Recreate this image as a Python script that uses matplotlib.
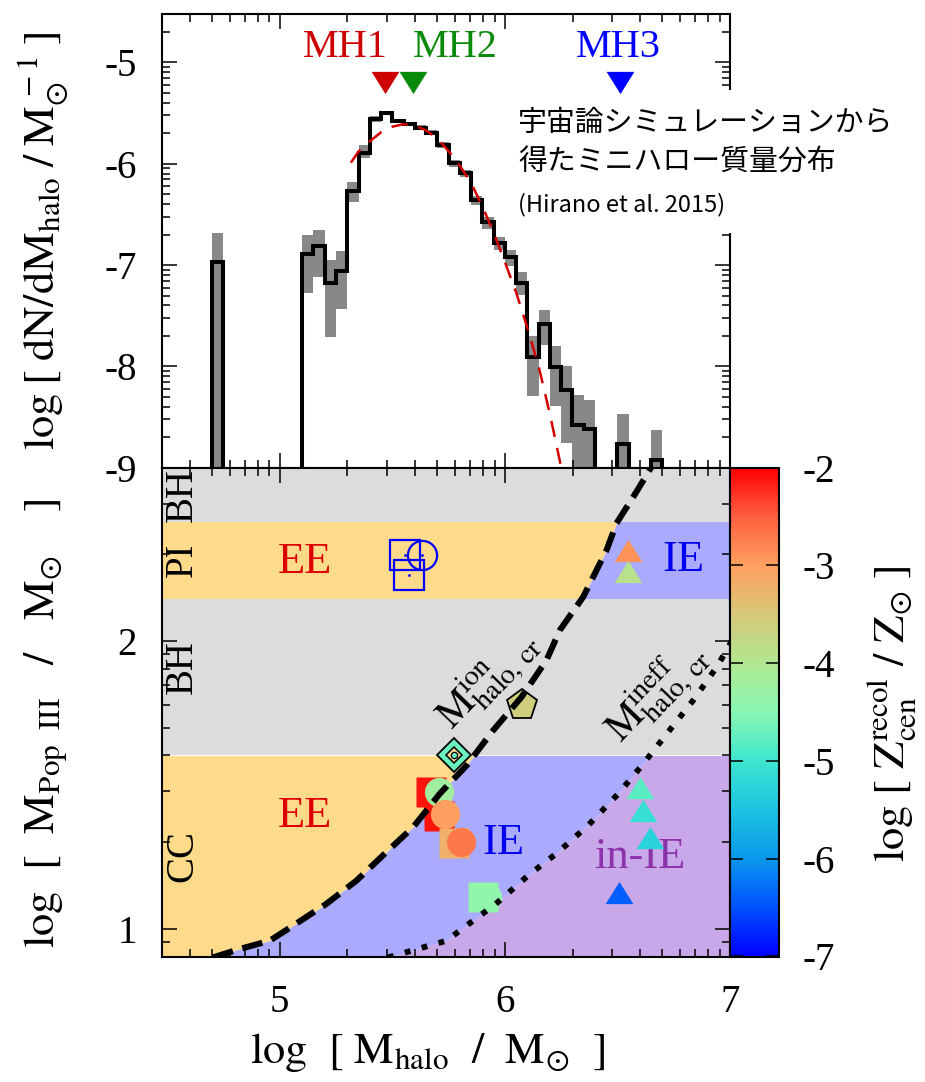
import numpy as np
import matplotlib
matplotlib.use("Agg")
import matplotlib.pyplot as plt
from matplotlib.colors import LinearSegmentedColormap, Normalize
from matplotlib.colorbar import ColorbarBase
from matplotlib.patches import Rectangle

plt.rcParams["font.family"] = ["Liberation Serif", "DejaVu Serif"]
plt.rcParams["mathtext.fontset"] = "stix"
plt.rcParams["axes.unicode_minus"] = False

# ---------------- halo mass function (top panel) ----------------
bin_edges = [4.70, 4.75, 4.80, 4.85, 4.90, 4.95, 5.00, 5.05, 5.10, 5.15,
             5.20, 5.25, 5.30, 5.35, 5.40, 5.45, 5.50, 5.55, 5.60, 5.65,
             5.70, 5.75, 5.80, 5.85, 5.90, 5.95, 6.00, 6.05, 6.10, 6.15,
             6.20, 6.25, 6.30, 6.35, 6.40, 6.45, 6.50, 6.55, 6.60, 6.65, 6.70]
nan = np.nan
log_dndm = [-6.97, nan, nan, nan, nan, nan, nan, nan, -6.895, -6.816,
            -7.18, -7.06, -6.27, -5.89, -5.555, -5.50, -5.58, -5.61, -5.645, -5.70,
            -5.82, -5.99, -6.09, -6.36, -6.58, -6.78, -6.925, -7.18, -7.91, -7.58,
            -8.01, -8.23, -8.58, -8.62, nan, nan, -8.77, nan, nan, -8.92]
err_hi = [-6.68, nan, nan, nan, nan, nan, nan, nan, -6.70, -6.65,
          -6.95, -6.86, -6.18, -5.82, -5.53, -5.48, -5.56, -5.59, -5.62, -5.67,
          -5.79, -5.96, -6.06, -6.32, -6.53, -6.72, -6.85, -7.07, -7.705, -7.44,
          -7.80, -8.00, -8.28, -8.33, nan, nan, -8.47, nan, nan, -8.63]
err_lo = [-12.0, nan, nan, nan, nan, nan, nan, nan, -7.28, -7.12,
          -7.71, -7.43, -6.38, -5.94, -5.59, -5.52, -5.60, -5.63, -5.67, -5.72,
          -5.85, -6.03, -6.13, -6.41, -6.64, -6.85, -7.01, -7.30, -8.29, -7.79,
          -8.39, -8.76, -12.0, -12.0, nan, nan, -12.0, nan, nan, -12.0]

fit_logm = [5.316, 5.35, 5.40, 5.45, 5.50, 5.55, 5.60, 5.65, 5.70, 5.75,
            5.80, 5.85, 5.90, 5.95, 6.00, 6.05, 6.10, 6.15, 6.20, 6.26]
fit_logdndm = [-5.99, -5.88, -5.78, -5.69, -5.635, -5.61, -5.625, -5.67, -5.75, -5.875,
               -6.02, -6.19, -6.42, -6.68, -6.97, -7.27, -7.62, -8.00, -8.47, -9.10]

mh_names = ["MH1", "MH2", "MH3"]
mh_logm = [5.467, 5.590, 6.511]
mh_label_x = [5.293, 5.778, 6.506]
mh_colors = ["#cc0000", "#0a8a0a", "#0000ff"]

# ---------------- Pop III masses (bottom panel) ----------------
band_edges = [np.log10(40.0), np.log10(140.0), np.log10(260.0)]  # CC | BH | PI | BH

ion_logm = [4.704, 4.822, 4.956, 5.059, 5.207, 5.341, 5.474, 5.593, 5.711, 5.830,
            5.948, 6.074, 6.185, 6.244, 6.348, 6.452, 6.496, 6.585, 6.652]
ion_logmp = [0.900, 0.929, 0.958, 1.010, 1.086, 1.167, 1.266, 1.353, 1.469, 1.567,
             1.689, 1.805, 1.933, 2.037, 2.153, 2.316, 2.409, 2.519, 2.606]
ineff_logm = [5.481, 5.741, 5.815, 5.960, 6.104, 6.237, 6.370, 6.504, 6.615, 6.726,
              6.837, 6.941, 6.985, 7.030]
ineff_logmp = [0.900, 0.958, 1.002, 1.086, 1.185, 1.266, 1.359, 1.469, 1.573, 1.684,
               1.794, 1.909, 1.968, 2.030]

sq_logm = [5.672, 5.708, 5.775, 5.904]
sq_logmp = [1.476, 1.393, 1.298, 1.109]
sq_z = [-2.1, -2.1, -3.2, -4.4]

ci_logm = [5.707, 5.733, 5.807, 5.919]
ci_logmp = [1.476, 1.397, 1.300, 1.109]
ci_z = [-4.2, -3.0, -2.7, -4.4]

tri_logm = [6.546, 6.546, 6.601, 6.615, 6.643, 6.509]
tri_logmp = [2.302, 2.230, 1.478, 1.397, 1.304, 1.115]
tri_z = [-2.9, -3.9, -4.8, -5.1, -5.3, -6.4]

pent_logm, pent_logmp, pent_z = [6.074], [1.776], [-3.6]
dia_logm, dia_logmp, dia_z = [5.775], [1.602], [-4.7]

open_sq_logm = [5.557, 5.572]
open_sq_logmp = [2.299, 2.228]
open_ci_logm = [5.634]
open_ci_logmp = [2.300]

# colour scale of log Z_cen^recol
cmap_levels = [-7.0, -6.5, -6.0, -5.5, -5.0, -4.5, -4.0, -3.5, -3.0, -2.5, -2.0]
cmap_colors = ["#0000ff", "#0052ff", "#0a98ec", "#1cc4e0", "#3ee6d0", "#88f8b2",
               "#b0e890", "#d6c878", "#ffa060", "#ff6040", "#ff0000"]

# ---------------- figure ----------------
W, H = 925, 1082
fig = plt.figure(figsize=(W / 100, H / 100), dpi=100)

def px_box(x0, y0, x1, y1):
    return [x0 / W, 1 - y1 / H, (x1 - x0) / W, (y1 - y0) / H]

ax1 = fig.add_axes(px_box(162.0, 14.0, 730.0, 467.7))
ax2 = fig.add_axes(px_box(162.0, 467.7, 730.0, 956.5))
cax = fig.add_axes(px_box(730.0, 467.7, 779.0, 956.5))

XMIN, XMAX = np.log10(3e4), 7.0
LW_SPINE = 1.5
LABEL_SIZE = 32

norm = Normalize(-7, -2)
cmap = LinearSegmentedColormap.from_list(
    "zrecol", [((l - cmap_levels[0]) / (cmap_levels[-1] - cmap_levels[0]), c)
               for l, c in zip(cmap_levels, cmap_colors)])

def log_minor(lo, hi):
    out = []
    for n in range(int(np.floor(lo)) - 1, int(np.ceil(hi)) + 1):
        for k in range(2, 10):
            v = np.log10(k) + n
            if lo - 1e-9 <= v <= hi + 1e-9:
                out.append(v)
    return out

def style_axis(ax, ylo, yhi):
    ax.set_xlim(XMIN, XMAX)
    ax.set_ylim(ylo, yhi)
    ax.set_xticks([5, 6, 7])
    ax.set_xticks(log_minor(XMIN, XMAX), minor=True)
    ax.set_yticks(log_minor(ylo, yhi), minor=True)
    ax.tick_params(which="both", direction="in", top=True, right=True,
                   width=1.1, labelsize=28)
    ax.tick_params(which="major", length=11, pad=18)
    ax.tick_params(which="minor", length=5.5)
    for s in ax.spines.values():
        s.set_linewidth(LW_SPINE)

# ---- top panel ----
style_axis(ax1, -9.0, np.log10(3e-5))
ax1.set_yticks([-9, -8, -7, -6, -5])
ax1.set_yticklabels(["-9", "-8", "-7", "-6", "-5"])
ax1.tick_params(labelbottom=False)

edges = np.array(bin_edges)
vals = np.array(log_dndm, dtype=float)
hi = np.array(err_hi, dtype=float)
lo = np.array(err_lo, dtype=float)
ok = ~np.isnan(vals)
ax1.bar(edges[:-1][ok], (hi - lo)[ok], bottom=lo[ok], width=np.diff(edges)[ok],
        align="edge", color="#888888", lw=0, zorder=1)
ax1.stairs(np.where(ok, vals, -12.0), edges, baseline=-12.0, color="black",
           lw=2.9, zorder=3)
ax1.plot(fit_logm, fit_logdndm, color="#d40000", lw=1.8, dashes=(6.5, 4.5), zorder=4)

tri_down = [(-1.0, 0.55), (1.0, 0.55), (0.0, -1.05)]
tri_up = [(-1.0, -0.55), (1.0, -0.55), (0.0, 1.05)]
for name, xm, xl, c in zip(mh_names, mh_logm, mh_label_x, mh_colors):
    ax1.plot([xm], [-5.165], marker=tri_down, ms=21, color=c, ls="none",
             mew=0, zorder=8, clip_on=False)
    ax1.text(xl, -4.95, name, color=c, fontsize=29, ha="center", va="baseline",
             zorder=8)

# white panel behind the annotation (covers the right frame)
ax1.add_patch(Rectangle((514 / W, 1 - 233 / H), (905 - 514) / W, (233 - 90) / H,
                        transform=fig.transFigure, facecolor="white",
                        edgecolor="none", zorder=6, clip_on=False))
jp = ["Noto Sans CJK JP", "DejaVu Sans"]
ax1.text(518 / W, 1 - 123 / H, "宇宙論シミュレーションから", transform=fig.transFigure,
         fontsize=20.8, family=jp, ha="left", va="center", zorder=7)
ax1.text(518 / W, 1 - 162 / H, "得たミニハロー質量分布", transform=fig.transFigure,
         fontsize=20.8, family=jp, ha="left", va="center", zorder=7)
ax1.text(518 / W, 1 - 205 / H, "(Hirano et al. 2015)", transform=fig.transFigure,
         fontsize=17, family=jp, ha="left", va="center", zorder=7)

# ---- bottom panel ----
style_axis(ax2, np.log10(8.0), np.log10(400.0))
ax2.set_yticks([1, 2])
ax2.set_yticklabels(["1", "2"])
ax2.set_xticklabels(["5", "6", "7"])
ax2.tick_params(axis="x", pad=20)

ORANGE, BLUE, PURPLE, GREY = "#fedb8a", "#aaaaff", "#c8a8e8", "#dcdcdc"
x_left, x_right = 4.3, 7.2

def dash_x(y):
    return np.interp(y, ion_logmp, ion_logm)

def dot_x(y):
    return np.interp(y, ineff_logmp, ineff_logm)

y_cc = np.linspace(0.85, band_edges[0], 300)
ax2.fill_betweenx(y_cc, x_left, dash_x(y_cc), color=ORANGE, lw=0, zorder=0.5)
ax2.fill_betweenx(y_cc, dash_x(y_cc), dot_x(y_cc), color=BLUE, lw=0, zorder=0.5)
ax2.fill_betweenx(y_cc, dot_x(y_cc), x_right, color=PURPLE, lw=0, zorder=0.5)
y_pi = np.linspace(band_edges[1], band_edges[2], 100)
ax2.fill_betweenx(y_pi, x_left, dash_x(y_pi), color=ORANGE, lw=0, zorder=0.5)
ax2.fill_betweenx(y_pi, dash_x(y_pi), x_right, color=BLUE, lw=0, zorder=0.5)
ax2.axhspan(band_edges[0], band_edges[1], color=GREY, lw=0, zorder=0.5)
ax2.axhspan(band_edges[2], 3.0, color=GREY, lw=0, zorder=0.5)

# stellar-fate labels
for txt, yy in zip(["BH", "PI", "BH", "CC"], [2.507, 2.281, 1.909, 1.254]):
    ax2.text(4.569, yy, txt, rotation=90, fontsize=28, ha="center", va="center")
ax2.text(5.111, 2.274, "EE", color="#dd0000", fontsize=32, ha="center", va="center")
ax2.text(5.111, 1.393, "EE", color="#dd0000", fontsize=32, ha="center", va="center")
ax2.text(6.793, 2.281, "IE", color="#0000ee", fontsize=32, ha="center", va="center")
ax2.text(5.993, 1.297, "IE", color="#0000ee", fontsize=32, ha="center", va="center")
ax2.text(6.600, 1.248, "in-IE", color="#8c32aa", fontsize=32, ha="center", va="center")

ax2.text(5.925, 1.866, r"$\mathrm{M}^{\mathrm{ion}}_{\mathrm{halo,\,cr}}$",
         rotation=46, fontsize=29, ha="center", va="center")
ax2.text(6.676, 1.820, r"$\mathrm{M}^{\mathrm{ineff}}_{\mathrm{halo,\,cr}}$",
         rotation=46, fontsize=29, ha="center", va="center")

# samples
for xs, ys, zs in zip(sq_logm, sq_logmp, sq_z):
    ax2.plot([xs], [ys], "s", ms=21, mfc=cmap(norm(zs)), mec="none", zorder=3)
for xs, ys, zs in zip(ci_logm, ci_logmp, ci_z):
    ax2.plot([xs], [ys], "o", ms=21, mfc=cmap(norm(zs)), mec="none", zorder=3.1)
for xs, ys, zs in zip(tri_logm, tri_logmp, tri_z):
    ax2.plot([xs], [ys], marker=tri_up, ms=21, mfc=cmap(norm(zs)), mec="none",
             ls="none", zorder=3)
ax2.plot(pent_logm, pent_logmp, "p", ms=23, mfc=cmap(norm(pent_z[0])), mec="black",
         mew=1.3, zorder=3)
ax2.plot(dia_logm, dia_logmp, "D", ms=17, mfc=cmap(norm(dia_z[0])), mec="black",
         mew=1.3, zorder=3.2)
ax2.plot(dia_logm, dia_logmp, "D", ms=8.5, mfc="#f8d890", mec="black",
         mew=1.1, zorder=3.3)
ax2.plot(dia_logm, dia_logmp, "o", ms=4.5, mfc=cmap(norm(dia_z[0])), mec="black",
         mew=0.9, zorder=3.4)
ax2.plot(open_sq_logm, open_sq_logmp, "s", ms=21, mfc="none", mec="#0000ff",
         mew=1.6, ls="none", zorder=3)
ax2.plot(open_ci_logm, open_ci_logmp, "o", ms=21, mfc="none", mec="#0000ff",
         mew=1.6, ls="none", zorder=3)
ax2.plot(open_sq_logm + open_ci_logm, open_sq_logmp + open_ci_logmp, "o", ms=2.0,
         mew=0, color="#0000ff", ls="none", zorder=3)

# critical halo masses
ax2.plot(ion_logm, ion_logmp, color="black", lw=4.4, dashes=(3.4, 1.6), zorder=4)
ax2.plot(ineff_logm, ineff_logmp, color="black", lw=4.2, dashes=(1.0, 2.0), zorder=4)

# ---- colour bar ----
cb = ColorbarBase(cax, cmap=cmap, norm=norm, orientation="vertical")
cb.outline.set_linewidth(LW_SPINE)
cb.set_ticks([-7, -6, -5, -4, -3, -2])
cb.set_ticklabels(["-7", "-6", "-5", "-4", "-3", "-2"])
cax.tick_params(which="major", direction="in", left=True, right=True, length=9.5,
                width=1.1, labelsize=28, pad=17, labelleft=False, labelright=True)
cax.minorticks_off()

# ---- axis titles ----
fig.text(43 / W, 1 - 241 / H,
         r"$\mathrm{log}\;[\;\mathrm{dN/dM_{halo}}\;/\;\mathrm{M}_{\odot}^{\,-1}\;]$",
         rotation=90, fontsize=LABEL_SIZE, ha="center", va="center")
fig.text(46 / W, 1 - 723 / H,
         r"$\mathrm{log}\ \ [\ \ \mathrm{M_{Pop\ \ III}}\ \ \ /\ \ \ \mathrm{M_{\odot}}\ \ \ \ ]$",
         rotation=90, fontsize=LABEL_SIZE, ha="center", va="center")
fig.text(428 / W, 1 - 1053 / H,
         r"$\mathrm{log}\ \ [\ \mathrm{M_{halo}}\ \ /\ \ \mathrm{M_{\odot}}\ \ ]$",
         fontsize=LABEL_SIZE, ha="center", va="center")
fig.text(892 / W, 1 - 714 / H,
         r"$\mathrm{log}\ [\ \mathrm{Z_{cen}^{recol}}\ /\ \mathrm{Z_{\odot}}\ ]$",
         rotation=90, fontsize=LABEL_SIZE, ha="center", va="center")

fig.savefig("out.png", dpi=100)
